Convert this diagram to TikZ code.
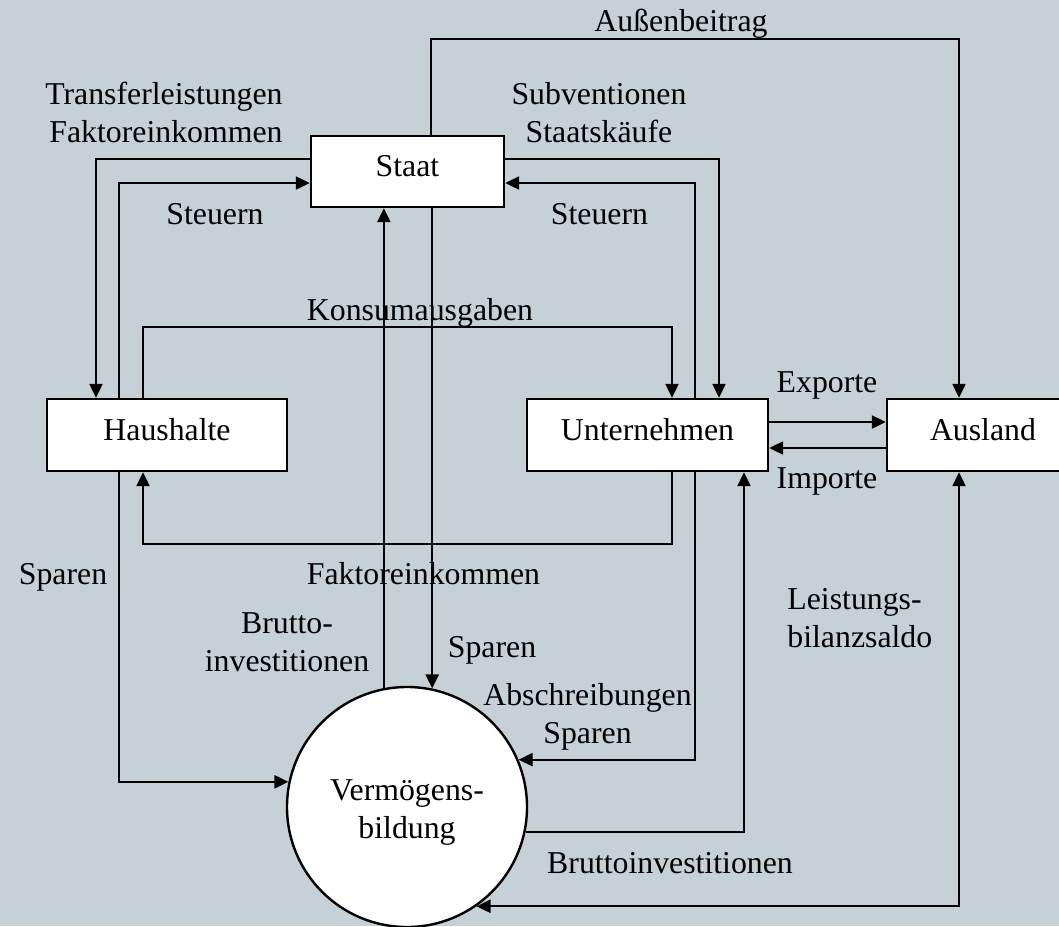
\documentclass[tikz,border=0pt]{standalone}
\usepackage{fontspec}
\setmainfont{Liberation Serif}
\usetikzlibrary{arrows.meta}
\definecolor{panel}{RGB}{197,209,215}
\begin{document}
\begin{tikzpicture}[x=0.5pt,y=-0.5pt,
  every node/.style={font=\fontsize{15.9}{19}\selectfont, inner sep=0pt},
  sector/.style={draw, line width=1.2pt, fill=white, text height=11pt, text depth=6pt},
  pool/.style={draw, circle, line width=1.2pt, fill=white, minimum size=120pt},
  flow/.style={line width=1.1pt, -{Triangle[length=7pt,width=6.5pt]}},
  twoway/.style={line width=1.1pt, {Triangle[length=7pt,width=6.5pt]}-{Triangle[length=7pt,width=6.5pt]}},
  lbl/.style={anchor=base}
]
\fill[panel] (0,0) rectangle (1059,926);
\useasboundingbox (0,0) rectangle (1059,926);

% sectors
\node[sector, minimum width=96.5pt, minimum height=35.5pt] (staat) at (407.5,171.5) {Staat};
\node[sector, minimum width=120pt, minimum height=36pt] (hh) at (167,435) {Haushalte};
\node[sector, minimum width=120.5pt, minimum height=36pt] (un) at (647.5,435) {Unternehmen};
\node[sector, minimum width=96pt, minimum height=36pt] (aus) at (983,435) {Ausland};
\node[pool] (vb) at (407,807) {};
% multi-line nodes: the base anchor sits on the last line
\node[align=center, anchor=base] (vb-text) at (407,838) {Vermögens-\\bildung};

% flows between the sectors
\draw[flow] (staat.north -| 431,0) |- (959,39) -- (aus.north -| 959,0);
\draw[flow] (staat.west |- 0,159) -| (hh.north -| 96,0);
\draw[flow] (hh.north -| 119,0) |- (staat.west |- 0,183);
\draw[flow] (hh.north -| 143,0) |- (672,327) -- (un.north -| 672,0);
\draw[flow] (staat.east |- 0,159) -| (un.north -| 719,0);
\draw[flow] (un.north -| 695,0) |- (staat.east |- 0,183);
\draw[flow] (vb.101) -- (vb.101 |- staat.south);
\draw[flow] (staat.south -| vb.78) -- (vb.78);
\draw[flow] (un.south -| 672,0) |- (143,544) -- (hh.south -| 143,0);
\draw[flow] (hh.south -| 119,0) |- (vb.168);
\draw[flow] (un.south -| 695,0) |- (vb.23);
\draw[flow] (vb.348) -| (un.south -| 744,0);
\draw[twoway] (aus.south -| 959,0) |- (vb.305);
\draw[flow] (un.east |- 0,422) -- (aus.west |- 0,422);
\draw[flow] (aus.west |- 0,448) -- (un.east |- 0,448);

% flow labels
\node[lbl] (l-aussen) at (681,32) {Außenbeitrag};
\node[anchor=base east, align=right] (l-transfer) at (283,142) {Transferleistungen\\Faktoreinkommen};
\node[lbl] (l-steuer-hh) at (215,224) {Steuern};
\node[align=center, anchor=base] (l-subv) at (599,142) {Subventionen\\Staatskäufe};
\node[lbl] (l-steuer-un) at (599.5,224) {Steuern};
\node[lbl] (l-konsum) at (420,320) {Konsumausgaben};
\node[lbl] (l-export) at (827,392) {Exporte};
\node[lbl] (l-import) at (827,488) {Importe};
\node[lbl] (l-sparen-hh) at (63,584) {Sparen};
\node[lbl] (l-faktor) at (423.5,584) {Faktoreinkommen};
\node[align=center, anchor=base] (l-brutto-st) at (287,671) {Brutto-\\investitionen};
\node[lbl] (l-sparen-st) at (492,657) {Sparen};
\node[align=center, anchor=base] (l-abschr) at (587.5,743) {Abschreibungen\\Sparen};
\node[anchor=base west, align=left] (l-lbs) at (787,647) {Leistungs-\\bilanzsaldo};
\node[lbl] (l-brutto-un) at (670,873) {Bruttoinvestitionen};
\end{tikzpicture}
\end{document}
